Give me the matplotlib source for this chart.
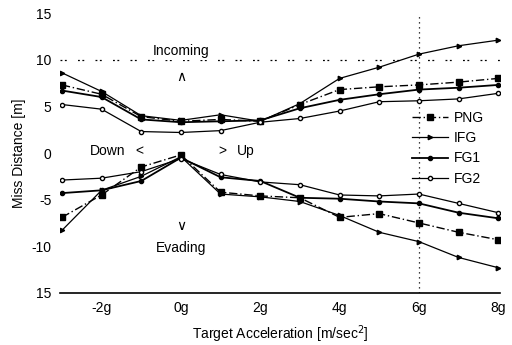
import matplotlib
matplotlib.use('Agg')
import matplotlib.pyplot as plt

plt.rcParams['font.family'] = ['Liberation Sans', 'DejaVu Sans']

# aceleracion del blanco en g
accel = [-3, -2, -1, 0, 1, 2, 3, 4, 5, 6, 7, 8]

# rama de arriba (incoming)
png_up = [7.3, 6.3, 3.9, 3.4, 3.6, 3.4, 5.2, 6.8, 7.1, 7.3, 7.6, 8.0]
ifg_up = [8.6, 6.6, 4.0, 3.5, 4.1, 3.4, 5.3, 8.0, 9.2, 10.6, 11.5, 12.1]
fg1_up = [6.7, 6.0, 3.6, 3.3, 3.4, 3.5, 4.8, 5.7, 6.3, 6.8, 7.0, 7.3]
fg2_up = [5.2, 4.7, 2.3, 2.2, 2.4, 3.3, 3.7, 4.5, 5.5, 5.6, 5.8, 6.4]

# rama de abajo (evading)
png_dn = [-6.9, -4.5, -1.5, -0.2, -4.2, -4.6, -4.8, -6.9, -6.5, -7.5, -8.5, -9.3]
ifg_dn = [-8.3, -4.0, -2.5, -0.4, -4.4, -4.7, -5.2, -6.7, -8.5, -9.5, -11.2, -12.3]
fg1_dn = [-4.3, -4.0, -3.0, -0.5, -2.6, -3.0, -4.8, -4.9, -5.2, -5.4, -6.4, -7.0]
fg2_dn = [-2.9, -2.7, -2.0, -0.6, -2.3, -3.1, -3.4, -4.5, -4.6, -4.4, -5.4, -6.4]

xticks = [-2, 0, 2, 4, 6, 8]
xlabels = ['-2g', '0g', '2g', '4g', '6g', '8g']
yticks = [15, 10, 5, 0, -5, -10, -15]
ylabels = ['15', '10', '5', '0', '-5', '-10', '15']

fig = plt.figure(figsize=(5.12, 3.45), dpi=100)
ax = fig.add_axes([0.117, 0.151, 0.86, 0.811])

# lineas de referencia
ax.axhline(10, color='black', lw=0.9, ls=(0, (1.5, 2, 1.5, 9)), zorder=1)
ax.axvline(6, color='black', lw=0.9, ls=(0, (1, 3)), zorder=1)

estilos = {
    'PNG': dict(ls=(0, (6, 2, 1, 2)), marker='s', ms=4.0, mfc='black', lw=1.0),
    'IFG': dict(ls='-', marker='>', ms=3.2, mfc='black', lw=0.9),
    'FG1': dict(ls='-', marker='o', ms=3.0, mfc='black', lw=1.3),
    'FG2': dict(ls='-', marker='o', ms=3.0, mfc='white', lw=0.9),
}
datos = {
    'PNG': (png_up, png_dn),
    'IFG': (ifg_up, ifg_dn),
    'FG1': (fg1_up, fg1_dn),
    'FG2': (fg2_up, fg2_dn),
}
for nombre in ['PNG', 'IFG', 'FG1', 'FG2']:
    up, dn = datos[nombre]
    ax.plot(accel, up, color='black', mec='black', label=nombre, **estilos[nombre])
    ax.plot(accel, dn, color='black', mec='black', **estilos[nombre])

# anotaciones
fs = 10
ax.text(0, 10.9, 'Incoming', ha='center', va='center', fontsize=fs,
        bbox=dict(facecolor='white', edgecolor='none', pad=1), zorder=3)
ax.text(0, 8.1, '\u2227', ha='center', va='center', fontsize=fs)
ax.text(-1.4, 0.2, 'Down', ha='right', va='center', fontsize=fs)
ax.text(-1.05, 0.2, '<', ha='center', va='center', fontsize=fs)
ax.text(1.05, 0.2, '>', ha='center', va='center', fontsize=fs)
ax.text(1.4, 0.2, 'Up', ha='left', va='center', fontsize=fs)
ax.text(0, -7.8, '\u2228', ha='center', va='center', fontsize=fs)
ax.text(0, -10.2, 'Evading', ha='center', va='center', fontsize=fs)

ax.set_xlim(-3.05, 8.05)
ax.set_ylim(-15, 15)
ax.set_xticks(xticks)
ax.set_xticklabels(xlabels)
ax.set_yticks(yticks)
ax.set_yticklabels(ylabels)
ax.tick_params(length=0, labelsize=fs, pad=6)

for s in ['top', 'right', 'left']:
    ax.spines[s].set_visible(False)
ax.spines['bottom'].set_linewidth(1.2)

ax.set_xlabel('Target Acceleration [m/sec$^2$]', fontsize=fs, labelpad=6)
ax.set_ylabel('Miss Distance [m]', fontsize=fs, labelpad=4)

ax.legend(loc='upper right', bbox_to_anchor=(0.975, 0.67), frameon=False,
          fontsize=fs, handlelength=2.6, labelspacing=0.45, handletextpad=0.4,
          borderaxespad=0)

fig.savefig('out.png', dpi=100)
